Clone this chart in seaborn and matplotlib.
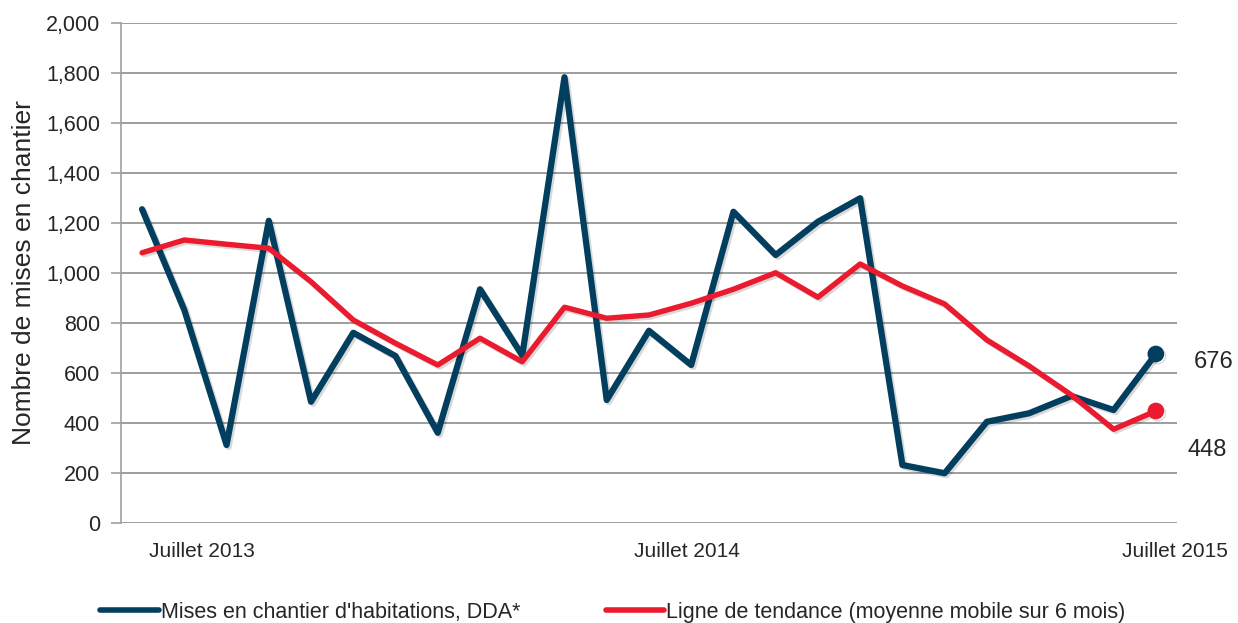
import pandas as pd
import matplotlib.pyplot as plt
import matplotlib.patheffects as pe
import seaborn as sns

# Monthly values, Juillet 2013 -> Juillet 2015
mois = list(range(25))
mises_en_chantier = [1255, 852, 312, 1209, 485, 761, 668, 361, 935, 670,
                     1783, 492, 769, 632, 1245, 1072, 1205, 1299, 232, 199,
                     405, 439, 508, 452, 676]
tendance = [1081, 1132, 1115, 1099, 965, 812, 719, 632, 739, 645,
            863, 819, 832, 879, 935, 1001, 903, 1036, 948, 876,
            732, 628, 512, 375, 448]
tick_labels = ['Juillet 2013', 'Juillet 2014', 'Juillet 2015']

df = pd.DataFrame({'mois': mois, 'mises': mises_en_chantier, 'tendance': tendance})

blue = '#023e5e'
red = '#ea1b2e'

sns.set_style('white')
plt.rcParams['font.family'] = ['Liberation Sans', 'DejaVu Sans']

fig = plt.figure(figsize=(12.38, 6.23), dpi=100)
ax = fig.add_axes([0.0977, 0.1605, 0.853, 0.8026])

shadow = [pe.SimpleLineShadow(offset=(1.5, -1.5), alpha=0.15, shadow_color='black'), pe.Normal()]

sns.lineplot(data=df, x='mois', y='mises', color=blue, linewidth=4.5, ax=ax,
             label="Mises en chantier d'habitations, DDA*", path_effects=shadow)
sns.lineplot(data=df, x='mois', y='tendance', color=red, linewidth=3.9, ax=ax,
             label='Ligne de tendance (moyenne mobile sur 6 mois)', path_effects=shadow)

# end markers and labels
last = df.iloc[-1]
ax.plot(last['mois'], last['mises'], 'o', color=blue, markersize=11, path_effects=shadow)
ax.plot(last['mois'], last['tendance'], 'o', color=red, markersize=11, path_effects=shadow)
ax.annotate(f"{int(last['mises'])}", (last['mois'], last['mises']), xytext=(27, -6),
            textcoords='offset points', fontsize=17, va='center', ha='left', annotation_clip=False)
ax.annotate(f"{int(last['tendance'])}", (last['mois'], last['tendance']), xytext=(23, -28),
            textcoords='offset points', fontsize=17, va='center', ha='left', annotation_clip=False)

ax.set_xlim(-0.5, 24.5)
ax.set_ylim(0, 2000)
ax.set_yticks(range(0, 2001, 200))
ax.set_yticklabels([f'{v:,}' for v in range(0, 2001, 200)], fontsize=15.5)
ax.yaxis.grid(True, color='#8c8c8c', linewidth=1.2)
ax.tick_params(axis='y', length=7, color='#a0a0a0', width=1.2, left=True, pad=8)

# category labels sit a bit right of the points
ax.set_xticks([1.42, 12.9, 24.45])
ax.set_xticklabels(tick_labels, fontsize=15)
ax.tick_params(axis='x', length=0, pad=14)

ax.set_xlabel('')
ax.set_ylabel('Nombre de mises en chantier', fontsize=19, labelpad=7)

for s in ['top', 'right', 'bottom']:
    ax.spines[s].set_visible(False)
ax.spines['left'].set_color('#a0a0a0')
ax.spines['left'].set_linewidth(1.2)

leg = ax.legend(loc='center', bbox_to_anchor=(0.466, -0.178), ncol=2, frameon=False,
                prop={'size': 15.5}, handlelength=2.7, handletextpad=0.1,
                columnspacing=4.0)
for line in leg.get_lines():
    line.set_linewidth(4)
    line.set_path_effects([])

fig.savefig('out.png', dpi=100)
